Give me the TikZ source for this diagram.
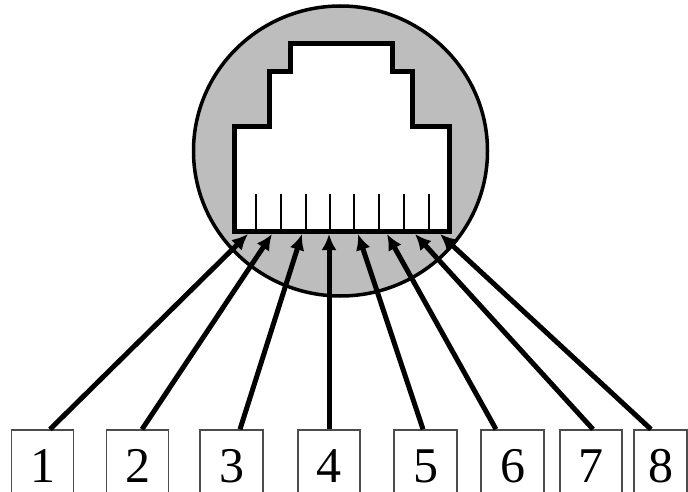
\documentclass[tikz,border=0pt]{standalone}
\usepackage{fontspec}
\setmainfont{Liberation Serif}
\usetikzlibrary{arrows.meta,shapes.geometric}
\begin{document}
\begin{tikzpicture}[x=1pt,y=-1pt,
  pinbox/.style={draw=black!70,line width=1.4pt,fill=white,minimum width=62pt,minimum height=72pt,inner sep=0pt,font=\fontsize{50}{53}\selectfont},
  jack/.style={draw=black,line width=5pt,fill=white,line join=miter},
  pinline/.style={draw=black,line width=2pt},
  wire/.style={draw=black,line width=5pt,-{Latex[length=16pt,width=15pt]}}]
\useasboundingbox (0,0) rectangle (688,492);
\clip (0,0) rectangle (688,492);
% circle
\node[draw=black,line width=3.5pt,fill=black!26,ellipse,minimum width=294pt,minimum height=290pt,inner sep=0pt] (shell) at (340.5,151) {};
% jack outline
\draw[jack] (234,231) -- (234,127) -- (269,127) -- (269,72) -- (290,72) -- (290,44) -- (392,44) -- (392,72) -- (412,72) -- (412,127) -- (449,127) -- (449,231) -- cycle;
% pins
\foreach \x in {256,281,306,330,354,379,404,429}
  \draw[pinline] (\x,194) -- (\x,231);
% boxes
\node[pinbox] (b1) at (42.5,466) {1};
\node[pinbox] (b2) at (137.5,466) {2};
\node[pinbox,minimum width=63pt] (b3) at (231.5,466) {3};
\node[pinbox] (b4) at (329,466) {4};
\node[pinbox,minimum width=63pt] (b5) at (425.5,466) {5};
\node[pinbox,minimum width=63pt] (b6) at (512.5,466) {6};
\node[pinbox] (b7) at (591,466) {7};
\node[pinbox,minimum width=53pt] (b8) at (660.5,466) {8};
% arrow tips
\coordinate (t1) at (248,234);
\coordinate (t2) at (272,234);
\coordinate (t3) at (302,234);
\coordinate (t4) at (329,234);
\coordinate (t5) at (358,234);
\coordinate (t6) at (387,234);
\coordinate (t7) at (415,234);
\coordinate (t8) at (440,234);
\draw[wire] ([xshift=7.5pt]b1.north) -- (t1);
\draw[wire] ([xshift=4.5pt]b2.north) -- (t2);
\draw[wire] ([xshift=8.5pt]b3.north) -- (t3);
\draw[wire] (b4.north) -- (t4);
\draw[wire] ([xshift=-2.5pt]b5.north) -- (t5);
\draw[wire] ([xshift=-16.5pt]b6.north) -- (t6);
\draw[wire] ([xshift=2pt]b7.north) -- (t7);
\draw[wire] ([xshift=-9.5pt]b8.north) -- (t8);
\end{tikzpicture}
\end{document}
